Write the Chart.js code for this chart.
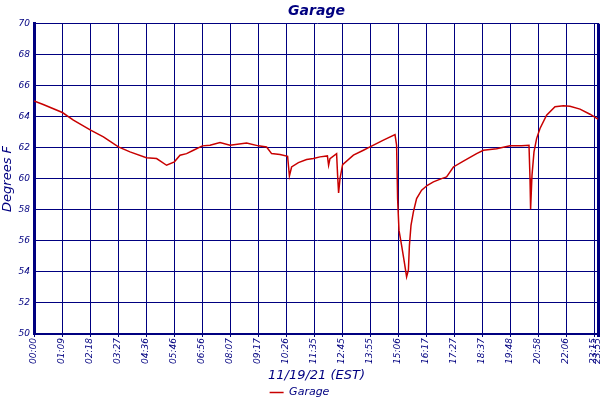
<!DOCTYPE html>
<html>
<head>
<meta charset="utf-8">
<script src="https://cdn.jsdelivr.net/npm/chart.js@4/dist/chart.umd.min.js"></script>
<style>
  body { margin: 0; background: #fff; }
</style>
</head>
<body>
<canvas id="garage" width="600" height="400"></canvas>
<script>
// sample index along the day (x)
const sampleIndex = [
    0, 4.6, 14.2, 19.7, 28.3, 34.7, 42.2, 48, 56.2, 61.3, 66.3, 70.2, 73, 76.3, 79.7,
    84.2, 88, 93, 98, 106.3, 112.2, 116.3, 118.8, 123, 126.8, 127.7, 128.8, 132.2, 136.3,
    139.7, 143, 146.7, 147.3, 148, 151.3, 151.8, 152.3, 153, 154.3, 159.7, 164.7, 168,
    174.7, 180.5, 181.3, 181.8, 182.5, 183.8, 185.2, 186.3, 187.2, 187.7, 188.5, 189.7,
    191.3, 193.8, 196.7, 199.7, 203.8, 206.3, 209.7, 214.7, 221.3, 224.7, 231.3, 238,
    243.8, 247.5, 248, 248.3, 249, 250, 251.3, 253, 256.3, 260.5, 264.7, 268, 273, 278, 282
];
const tempF = [
    65.03, 64.8, 64.28, 63.79, 63.14, 62.71, 62.06, 61.74, 61.37, 61.31, 60.88, 61.1, 61.53, 61.63, 61.85,
    62.13, 62.17, 62.34, 62.17, 62.32, 62.13, 62.06, 61.63, 61.57, 61.46, 60.19, 60.77, 61.05, 61.25,
    61.31, 61.42, 61.48, 60.88, 61.31, 61.63, 60.24, 59.1, 60.02, 60.92, 61.53, 61.85, 62.06,
    62.5, 62.86, 62.17, 58.73, 56.68, 55.72, 54.6, 53.68, 54.11, 55.7, 57.01, 57.87,
    58.73, 59.27, 59.59, 59.81, 60.02, 60.13, 60.77, 61.14, 61.63, 61.85, 61.95, 62.13,
    62.13, 62.17, 60.02, 58.04, 60.24, 61.74, 62.6, 63.25, 64.11, 64.65, 64.71, 64.69, 64.5, 64.17, 63.85
];

const tickIndex = [0, 14, 28, 42, 56, 70, 84, 98, 112, 126, 140, 154, 168, 182, 196, 210, 224, 238, 252, 266, 280, 282];
const tickLabels = ['00:00', '01:09', '02:18', '03:27', '04:36', '05:46', '06:56', '08:07', '09:17', '10:26',
    '11:35', '12:45', '13:55', '15:06', '16:17', '17:27', '18:37', '19:48', '20:58', '22:06', '23:15', '23:55'];

const navy = '#000080';
const fontFamily = '"DejaVu Sans", Verdana, sans-serif';

const points = sampleIndex.map((x, i) => ({ x: x, y: tempF[i] }));

const ctx = document.getElementById('garage').getContext('2d');
const chart = new Chart(ctx, {
    type: 'line',
    data: {
        datasets: [{
            label: 'Garage',
            data: points,
            borderColor: '#c80000',
            backgroundColor: '#c80000',
            borderWidth: 1.5,
            pointRadius: 0,
            tension: 0
        }]
    },
    options: {
        responsive: false,
        animation: false,
        layout: { padding: { left: 0, right: 1, top: 0, bottom: -8 } },
        plugins: {
            title: {
                display: true,
                text: 'Garage',
                fullSize: false,
                color: navy,
                font: { family: fontFamily, size: 14, style: 'italic', weight: 'bold' },
                padding: { top: 3, bottom: 4 }
            },
            legend: {
                position: 'bottom',
                labels: {
                    usePointStyle: true,
                    pointStyle: 'line',
                    pointStyleWidth: 14,
                    color: navy,
                    padding: 4,
                    font: { family: fontFamily, size: 11, style: 'italic' }
                }
            },
            tooltip: { enabled: false }
        },
        scales: {
            x: {
                type: 'linear',
                min: 0,
                max: 282.5,
                afterBuildTicks: scale => {
                    scale.ticks = tickIndex.map(v => ({ value: v }));
                },
                afterFit: scale => {
                    scale.height = 49;
                    scale.paddingLeft = 0;
                    scale.paddingRight = 0;
                },
                ticks: {
                    autoSkip: false,
                    maxRotation: 90,
                    minRotation: 90,
                    padding: 1,
                    color: navy,
                    font: { family: fontFamily, size: 9, style: 'italic' },
                    callback: (v, i) => tickLabels[i]
                },
                grid: {
                    color: navy,
                    lineWidth: c => (c.index === tickIndex.length - 1 ? 3 : 1),
                    tickLength: 3
                },
                border: { color: navy, width: 2 },
                title: {
                    display: true,
                    text: '11/19/21 (EST)',
                    color: navy,
                    padding: { top: 2, bottom: 0 },
                    font: { family: fontFamily, size: 13, style: 'italic' }
                }
            },
            y: {
                min: 50,
                max: 70,
                afterFit: scale => { scale.width = 34; },
                ticks: {
                    stepSize: 2,
                    padding: 4,
                    color: navy,
                    font: { family: fontFamily, size: 9, style: 'italic' }
                },
                grid: { color: navy, lineWidth: 1, drawTicks: false },
                border: { color: navy, width: 3 },
                title: {
                    display: true,
                    text: 'Degrees F',
                    color: navy,
                    padding: { top: 0, bottom: 0 },
                    font: { family: fontFamily, size: 13, style: 'italic' }
                }
            }
        }
    }
});
</script>
</body>
</html>
